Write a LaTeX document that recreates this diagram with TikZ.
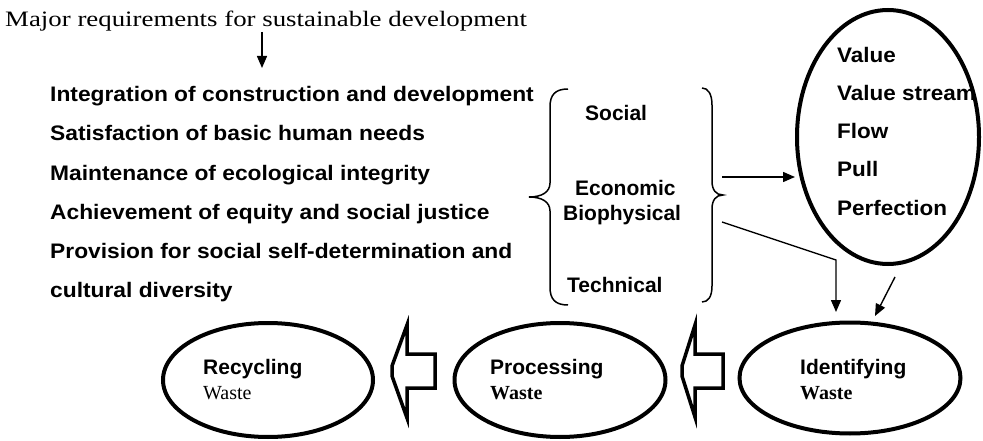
\documentclass[tikz,border=0pt]{standalone}
\usepackage{fontspec}
\setmainfont{Liberation Serif}
\newfontfamily\arialf{Liberation Sans}
\usetikzlibrary{shapes.geometric,arrows.meta}
\begin{document}
\begin{tikzpicture}[x=1pt,y=-1pt,
  sanst/.style={font=\arialf\bfseries\fontsize{21}{21}\selectfont, inner sep=0pt, anchor=base west},
  sansl/.style={font=\arialf\bfseries\fontsize{21}{21}\selectfont, inner sep=0pt, anchor=base west},
  serift/.style={font=\fontsize{20}{20}\selectfont, inner sep=0pt, anchor=base west},
  oval/.style={draw, ellipse, line width=4pt, inner sep=0pt},
  arr/.style={line width=1.4pt, -{Triangle[length=12pt,width=10pt]}},
  bracel/.style={line width=1.5pt},
  blockarr/.style={draw, line width=3.5pt, fill=white, line join=miter}
]
\useasboundingbox (0,0) rectangle (983,441);

% title
\node[serift, font=\fontsize{22}{22}\selectfont] (title) at (5,27) {\scalebox{1.22}[1]{Major requirements for sustainable development}};
\coordinate (tA) at (262,32);
\coordinate (tB) at (262,68);
\draw[arr] (tA) -- (tB);

% list
\node[sansl] (l1) at (50,102) {\scalebox{1.085}[1]{Integration of construction and development}};
\node[sansl] (l2) at (50,141) {\scalebox{1.085}[1]{Satisfaction of basic human needs}};
\node[sansl] (l3) at (50,180) {\scalebox{1.085}[1]{Maintenance of ecological integrity}};
\node[sansl] (l4) at (50,219) {\scalebox{1.085}[1]{Achievement of equity and social justice}};
\node[sansl] (l5) at (50,258) {\scalebox{1.085}[1]{Provision for social self-determination and}};
\node[sansl] (l6) at (50,297) {\scalebox{1.085}[1]{cultural diversity}};

% braces
\draw[bracel] (568,89) .. controls (555,89) and (550,95) .. (550,107) -- (550,183)
  .. controls (550,192) and (542,197) .. (529,197)
  .. controls (542,197) and (550,202) .. (550,211) -- (550,287)
  .. controls (550,299) and (555,305) .. (568,305);
\draw[bracel] (702,88) .. controls (708,88) and (712,94) .. (712,105) -- (712,181)
  .. controls (712,190) and (716,195) .. (723,195)
  .. controls (716,195) and (712,200) .. (712,209) -- (712,286)
  .. controls (712,297) and (708,302) .. (702,302);

\node[sanst] (social) at (585,121) {Social};
\node[sanst] (econ) at (575,195) {Economic};
\node[sanst] (bio) at (563,220) {Biophysical};
\node[sanst] (tech) at (567,292) {Technical};

% lean ellipse
\node[oval, minimum width=182pt, minimum height=254pt] (lean) at (888,137) {};
\node[sansl] (v1) at (837,63) {\scalebox{1.07}[1]{Value}};
\node[sansl] (v2) at (837,101) {\scalebox{1.07}[1]{Value stream}};
\node[sansl] (v3) at (837,139) {\scalebox{1.07}[1]{Flow}};
\node[sansl] (v4) at (837,177) {\scalebox{1.07}[1]{Pull}};
\node[sansl] (v5) at (837,215) {\scalebox{1.07}[1]{Perfection}};

% bottom ellipses
\node[oval, minimum width=210pt, minimum height=114pt] (recy) at (268,380) {};
\node[oval, minimum width=211pt, minimum height=114pt] (proc) at (560,380) {};
\node[oval, minimum width=221pt, minimum height=111pt] (iden) at (850,378) {};

\node[sanst] (recyT) at (203,374) {Recycling};
\node[serift] (recyW) at (203,399) {Waste};
\node[sanst] (procT) at (490,374) {Processing};
\node[serift, font=\bfseries\fontsize{20}{20}\selectfont] (procW) at (490,399) {Waste};
\node[sanst] (idenT) at (800,374) {Identifying};
\node[serift, font=\bfseries\fontsize{20}{20}\selectfont] (idenW) at (800,399) {Waste};

% connectors
\coordinate (rb1) at (722,177);
\draw[arr] (rb1) -- (rb1 -| lean.west);
\coordinate (rb2) at (722,222);
\coordinate (bend) at (836,260);
\coordinate (dn) at (836,312);
\draw[arr] (rb2) -- (bend) -- (dn);
\coordinate (ls) at (895,277);
\coordinate (le) at (875,316);
\draw[arr] (ls) -- (le);

% block arrows
\draw[blockarr] (435,354) -- (407,354) -- (407,325) -- (392,366) -- (392,376) -- (407,418) -- (407,388) -- (435,388) -- cycle;
\draw[blockarr] (723,354) -- (695,354) -- (695,325) -- (682,366) -- (682,376) -- (695,417) -- (695,388) -- (723,388) -- cycle;
\end{tikzpicture}
\end{document}
